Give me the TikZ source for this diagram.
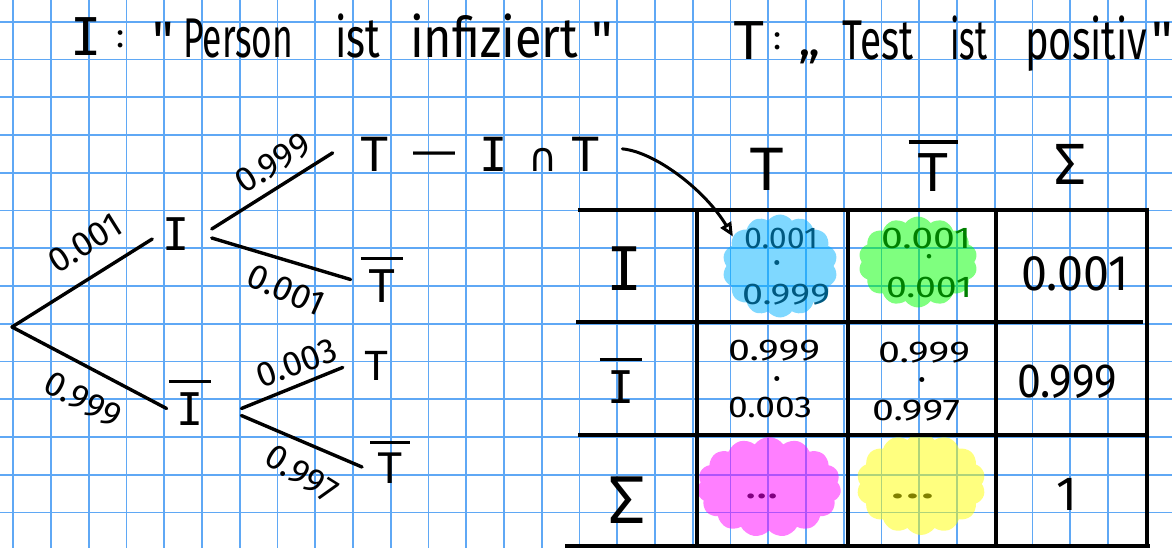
\documentclass[tikz,border=0pt]{standalone}
\usepackage{fontspec}
\usepackage{graphicx}
\setmainfont{Fira Sans}
\newfontfamily\hand{Fira Sans}
\newfontfamily\sym{DejaVu Sans Mono}
\newfontfamily\dvs{DejaVu Sans}
\usetikzlibrary{arrows.meta,shapes.symbols}
\definecolor{gridblue}{RGB}{95,168,245}
\definecolor{hlblue}{RGB}{0,178,255}
\definecolor{hlgreen}{RGB}{0,255,0}
\definecolor{hlmag}{RGB}{255,0,255}
\definecolor{hlyel}{RGB}{255,255,0}
\definecolor{tblue}{RGB}{0,89,128}
\definecolor{tgreen}{RGB}{0,128,0}
\definecolor{tmag}{RGB}{128,0,128}
\definecolor{tyel}{RGB}{128,128,0}
\newlength\fitlen
\newcommand\fitto[2]{\settowidth\fitlen{#2}\scalebox{\fpeval{#1/\fitlen}}[1]{#2}}
\newcommand\ovl[1]{\vbox{\hrule height 0.07em\kern0.2em\hbox{\kern0.17em#1\kern0.17em}}}
\tikzset{
  hw/.style={font=\hand\fontsize{#1}{#1}\selectfont, inner sep=0pt},
  sy/.style={font=\sym\fontsize{#1}{#1}\selectfont, inner sep=0pt},
  branch/.style={line width=3.4pt, line cap=round},
  tbl/.style={line width=4pt},
  gridl/.style={line width=1.8pt, draw=gridblue},
  blob/.style={cloud, cloud puffs=#1, cloud puff arc=110, cloud ignores aspect, draw=none, fill opacity=0.5, inner sep=0pt},
}
\begin{document}
\begin{tikzpicture}[x=1pt,y=-1pt]
\useasboundingbox (0,0) rectangle (1172,548);
\fill[white] (0,0) rectangle (1172,548);
% grid paper
\foreach \i in {0,...,30} \draw[gridl] ({13.3+37.75*\i},0) -- ({13.3+37.75*\i},548);
\foreach \j in {0,...,13} \draw[gridl] (0,{21.7+37.75*\j}) -- (1172,{21.7+37.75*\j});

% titles
\node[sy=52, anchor=base] (t1I) at (86,56) {I};
\node[hw=34, anchor=base] (t1c) at (121,48) {:};
\node[hw=54, anchor=base] (t1q) at (163,60) {"};
\node[hw=56, anchor=base west] (t1w1) at (183,58) {\fitto{110}{Person}};
\node[hw=56, anchor=base west] (t1w2) at (335,58) {\fitto{45}{ist}};
\node[hw=56, anchor=base west] (t1w3) at (410,58) {\fitto{168}{infiziert}};
\node[hw=54, anchor=base] (t1q2) at (602,60) {"};

\node[sy=52, anchor=base] (t2T) at (749,60) {T};
\node[hw=34, anchor=base] (t2c) at (778,50) {:};
\node[hw=54, anchor=base] (t2q) at (809,56) {„};
\node[hw=56, anchor=base west] (t2w1) at (842,60) {\fitto{71}{Test}};
\node[hw=56, anchor=base west] (t2w2) at (950,60) {\fitto{37}{ist}};
\node[hw=56, anchor=base west] (t2w3) at (1025,60) {\fitto{122}{positiv}};
\node[hw=54, anchor=base east] (t2q2) at (1173,60) {"};

% tree nodes
\coordinate (r) at (12,327);
\node[sy=45] (nI) at (176,234) {I};
\node[sy=45, anchor=base] (nIb) at (190,425) {\ovl{I}};
\node[sy=47, anchor=base] (nT1) at (375,172) {T};
\node[sy=47, anchor=base] (nDash) at (434,167) {\fitto{42}{—}};
\node[sy=47, anchor=base] (nI2) at (494,172) {I};
\node[font=\dvs\fontsize{40}{40}\selectfont, inner sep=0pt, anchor=base] (nCap) at (543,172) {∩};
\node[sy=47, anchor=base] (nT2) at (586,172) {T};
\node[sy=45, anchor=base] (nTb1) at (382,302) {\ovl{T}};
\node[sy=40, anchor=base] (nT3) at (377,380) {T};
\node[sy=42, anchor=base] (nTb2) at (390,483) {\ovl{T}};

% branches
\draw[branch] (r) -- ([xshift=-10pt,yshift=-5pt]nI.west);
\draw[branch] (r) -- ([xshift=-2pt,yshift=-6pt]nIb.west);
\draw[branch] ([xshift=22pt,yshift=5pt]nI.east) -- ([xshift=-28pt,yshift=2pt]nT1.west);
\draw[branch] ([xshift=22pt,yshift=-4pt]nI.east) -- ([xshift=-10pt]nTb1.west);
\draw[branch] ([xshift=30pt,yshift=-6pt]nIb.east) -- ([xshift=-22pt,yshift=-2pt]nT3.west);
\draw[branch] ([xshift=30pt,yshift=-13pt]nIb.east) -- ([xshift=-8pt,yshift=-5pt]nTb2.west);

% probabilities
\node[hw=35, rotate=32] (p1) at (85,243) {0.001};
\node[hw=35, rotate=-28] (p2) at (83,400) {0.999};
\node[hw=35, rotate=33] (p3) at (273,163) {0.999};
\node[hw=35, rotate=-24] (p4) at (286,290) {0.001};
\node[hw=35, rotate=20] (p5) at (297,363) {0.003};
\node[hw=35, rotate=-32] (p6) at (302,474) {0.997};

% highlighter blobs
\node[blob=14, fill=hlblue, minimum width=115pt, minimum height=103pt] (bb) at (780,266) {};
\node[blob=14, fill=hlgreen, minimum width=119pt, minimum height=91pt] (gb) at (918,262) {};
\node[blob=15, fill=hlmag, minimum width=144pt, minimum height=100pt] (mb) at (769,487) {};
\node[blob=14, fill=hlyel, minimum width=129pt, minimum height=102pt] (yb) at (921,484) {};

% table
\draw[tbl] (578,210) -- (1148,210);
\draw[tbl] (576,322) -- (1143,322);
\draw[tbl] (578,435) -- (1145,435);
\draw[tbl] (565,546) -- (1150,546);
\draw[tbl] (697,208) -- (697,548);
\draw[tbl] (848,208) -- (848,548);
\draw[tbl] (996,210) -- (996,548);
\draw[tbl] (1147,208) -- (1147,548);

\node[sy=58, anchor=base] (cT) at (767,190) {T};
\node[sy=52, anchor=base] (cTb) at (933,192) {\ovl{T}};
\node[sy=55, anchor=base] (cS) at (1070,185) {Σ};
\node[sy=60, anchor=base] (rI) at (625,290) {I};
\node[sy=45, anchor=base] (rIb) at (621,403) {\ovl{I}};
\node[sy=64, anchor=base] (rS) at (627,523) {Σ};

% cells
\node[hw=30, anchor=base, text=tblue] (c11a) at (781,248) {\fitto{74}{0.001}};
\node[hw=22, anchor=base, text=tblue] (c11b) at (777,270) {•};
\node[hw=30, anchor=base, text=tblue] (c11c) at (786,304) {\fitto{88}{0.999}};
\node[hw=30, anchor=base, text=tgreen] (c12a) at (926,248) {\fitto{90}{0.001}};
\node[hw=20, anchor=base, text=tgreen] (c12b) at (929,263) {•};
\node[hw=30, anchor=base, text=tgreen] (c12c) at (929,297) {\fitto{86}{0.001}};
\node[hw=50, anchor=base] (c13) at (1075,290) {\fitto{107}{0.001}};
\node[hw=30, anchor=base] (c21a) at (774,360) {\fitto{92}{0.999}};
\node[hw=22, anchor=base] (c21b) at (777,386) {•};
\node[hw=30, anchor=base] (c21c) at (770,417) {\fitto{84}{0.003}};
\node[hw=30, anchor=base] (c22a) at (924,362) {\fitto{92}{0.999}};
\node[hw=22, anchor=base] (c22b) at (922,387) {•};
\node[hw=30, anchor=base] (c22c) at (916,420) {\fitto{88}{0.997}};
\node[hw=48, anchor=base] (c23) at (1067,397) {\fitto{100}{0.999}};
\node[hw=36, anchor=base, text=tmag] (c31) at (762,498) {\fitto{34}{...}};
\node[hw=36, anchor=base, text=tyel] (c32) at (913,498) {\fitto{45}{...}};
\node[hw=48, anchor=base] (c33) at (1067,510) {1};

% arrow
\draw[line width=3pt, line cap=round, -{Triangle[open,length=14pt,width=12pt]}]
  ([xshift=22pt,yshift=6pt]nT2.east) .. controls (655,152) and (705,190) .. (bb.148);
\end{tikzpicture}
\end{document}
